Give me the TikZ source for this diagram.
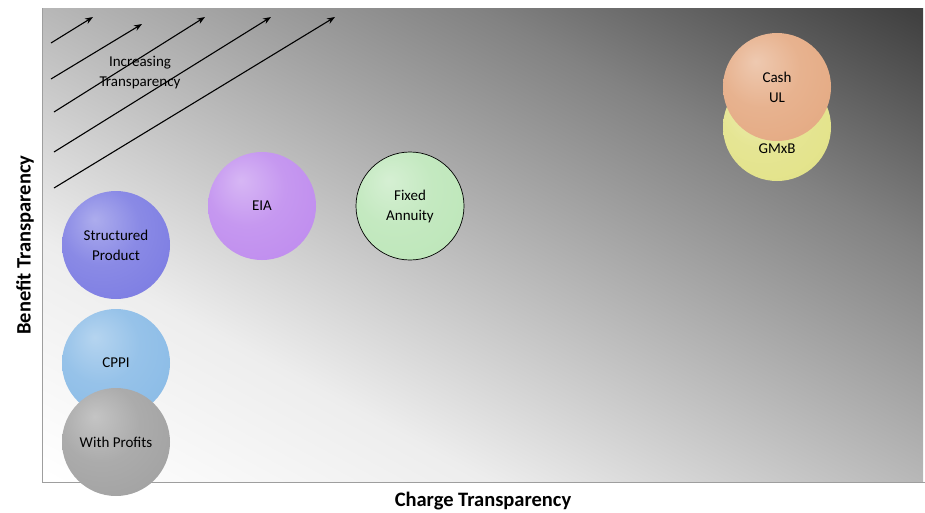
\documentclass[tikz,border=0pt]{standalone}
\usepackage{fontspec}
\setmainfont{Carlito}
\usetikzlibrary{arrows.meta}

% grey plane: white at the origin, dark towards the far corner
\pgfdeclareverticalshading{planegrad}{100bp}{color(0bp)=(white); color(15bp)=(white); color(32.5bp)=(white!93!black); color(50bp)=(white!72!black); color(67.5bp)=(white!51!black); color(85bp)=(white!25!black); color(100bp)=(white!25!black)}

% soft lit sphere, lit from the upper left
\colorlet{sphcol}{gray}
\pgfdeclareradialshading[sphcol]{softsphere}{\pgfpoint{-10bp}{12bp}}{color(0bp)=(sphcol!62!white); color(18bp)=(sphcol!88!white); color(40bp)=(sphcol); color(56bp)=(sphcol!84!black); color(66bp)=(sphcol!72!black)}

\definecolor{cStruct}{RGB}{122,122,226}
\definecolor{cEIA}{RGB}{190,138,238}
\definecolor{cFixed}{RGB}{188,230,184}
\definecolor{cCPPI}{RGB}{136,186,230}
\definecolor{cProfits}{RGB}{160,160,160}
\definecolor{cGMxB}{RGB}{226,226,134}
\definecolor{cCash}{RGB}{228,168,128}

\tikzset{
  axisline/.style={draw=black!38, line width=1pt},
  trend/.style={line width=1.1pt, -{Stealth[length=8pt,width=6pt]}},
  sphere/.style={circle, inner sep=0pt, minimum size=108pt,
    /utils/exec={\colorlet{sphcol}{#1}}, shading=softsphere,
    font=\fontsize{15pt}{20pt}\selectfont, align=center, text=black},
  smalltext/.style={font=\fontsize{15pt}{20pt}\selectfont, align=center, text=black},
  axistitle/.style={font=\fontsize{20.5pt}{24pt}\selectfont\bfseries, text=black}
}

\begin{document}
\begin{tikzpicture}[x=1pt,y=-1pt]
\useasboundingbox (0,0) rectangle (925,512);

% shaded plot area
\begin{scope}[transform canvas={shift={(42,482)},xscale=881/474}]
  \shade[shading=planegrad, shading angle=-45] (0,0) rectangle (474,-474);
\end{scope}

% axes
\coordinate (ytop) at (42,8);
\coordinate (origin) at (42,482);
\coordinate (xend) at (925,482);
\draw[axisline] (ytop) -- (origin) -- (xend);

% diagonal arrows
\coordinate (a1s) at (51,43);  \coordinate (a1e) at (93,17);
\coordinate (a2s) at (51,79);  \coordinate (a2e) at (142,24);
\coordinate (a3s) at (54,112); \coordinate (a3e) at (205,17);
\coordinate (a4s) at (54,152); \coordinate (a4e) at (271,17);
\coordinate (a5s) at (54,188); \coordinate (a5e) at (335,17);
\draw[trend] (a1s) -- (a1e);
\draw[trend] (a2s) -- (a2e);
\draw[trend] (a3s) -- (a3e);
\draw[trend] (a4s) -- (a4e);
\draw[trend] (a5s) -- (a5e);
\node[smalltext] (trendtext) at (140,72.5) {Increasing\\Transparency};

% products
\node[sphere=cStruct] (struct) at (116,245) {Structured\\Product};
\node[sphere=cEIA] (eia) at (262,206) {EIA};
\node[sphere=cFixed, draw=black, line width=0.7pt] (fixed) at (410,206) {Fixed\\Annuity};
\node[sphere=cCPPI] (cppi) at (116,363) {CPPI};
\node[sphere=cProfits] (profits) at (116,442) {With Profits};
\node[sphere=cGMxB] (gmxb) at (777,127) {};
\node[smalltext] (gmxbtext) at (777,149) {GMxB};
\node[sphere=cCash] (cash) at (777,87) {Cash\\UL};

% axis titles
\node[axistitle, rotate=90] (ytitle) at (25,245) {Benefit Transparency};
\node[axistitle] (xtitle) at (483,501) {Charge Transparency};
\end{tikzpicture}
\end{document}
